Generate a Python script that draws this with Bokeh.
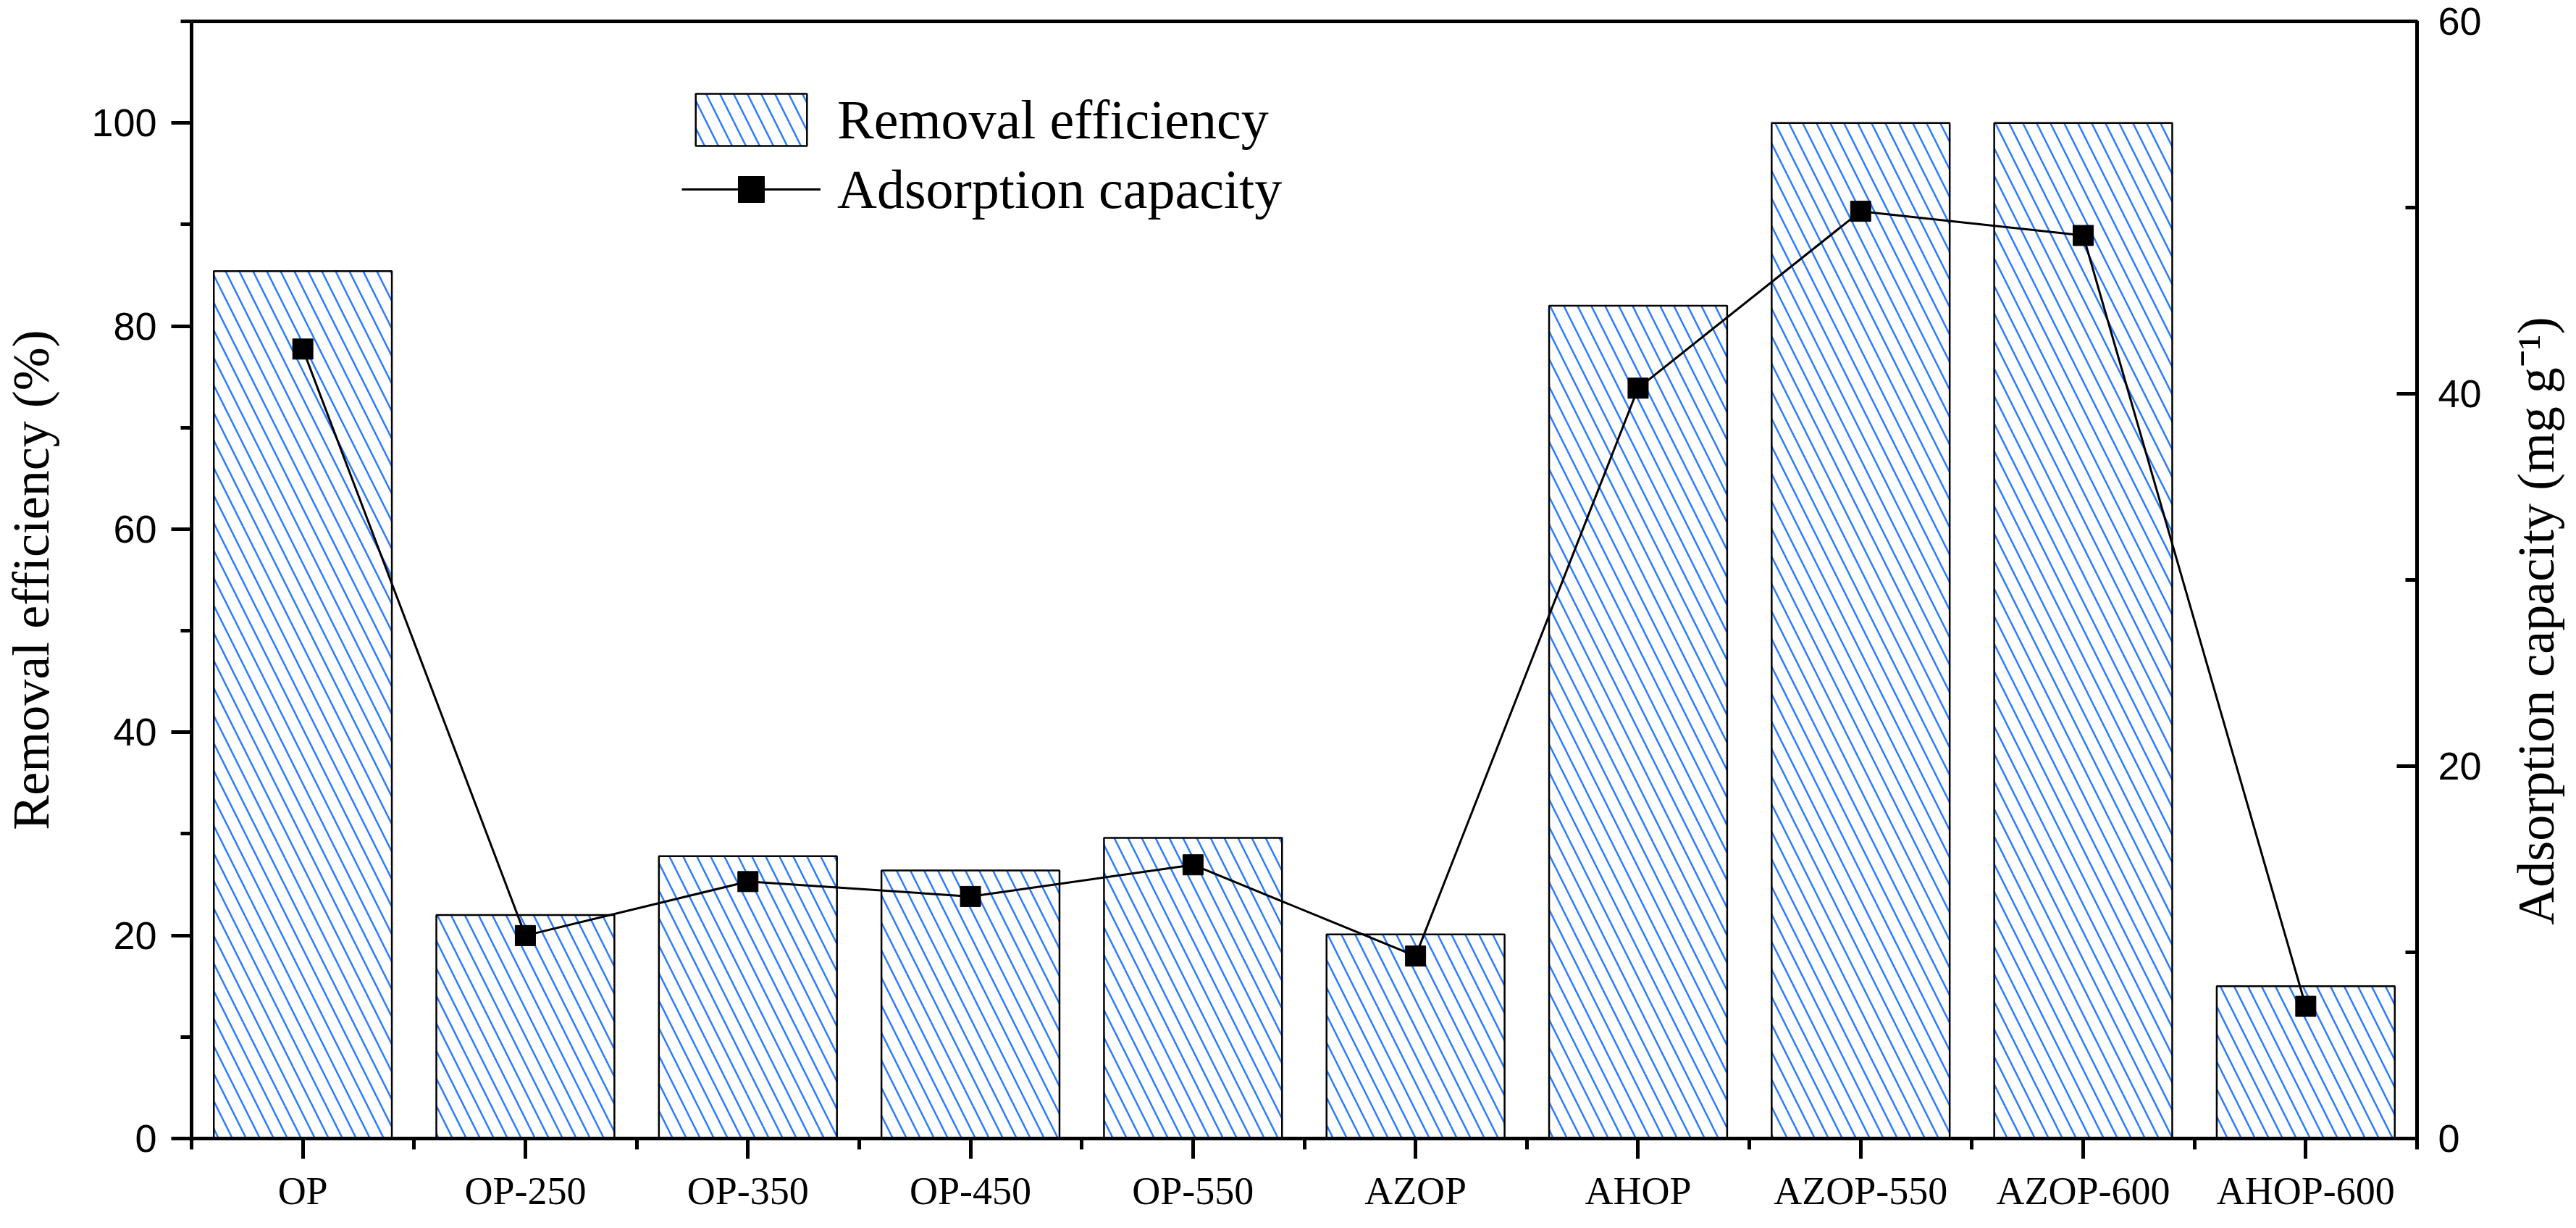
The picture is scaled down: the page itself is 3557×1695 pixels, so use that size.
import math
from bokeh.plotting import figure
from bokeh.models import (Range1d, LinearAxis, SingleIntervalTicker, FixedTicker, Label)
from bokeh.layouts import row
from bokeh.embed import file_html
from bokeh.resources import INLINE

# ---- data ----
categories = ["OP", "OP-250", "OP-350", "OP-450", "OP-550", "AZOP", "AHOP",
              "AZOP-550", "AZOP-600", "AHOP-600"]
removal_efficiency = [85.4, 22.0, 27.8, 26.4, 29.6, 20.1, 82.0, 100.0, 100.0, 15.0]
adsorption_capacity = [42.4, 10.9, 13.8, 13.0, 14.7, 9.8, 40.3, 49.8, 48.5, 7.1]
left_ticks_interval = 20
right_ticks_interval = 20
right_label_text = "Adsorption capacity (mg g\u207b\u00b9)"

positions = [i + 0.5 for i in range(len(categories))]
edges = [i for i in range(len(categories) + 1)]

FRAME_W, FRAME_H = 3073, 1542
BORDER_L, BORDER_R, BORDER_T, BORDER_B = 255, 125, 29, 108
SIDE_W = 88

p = figure(frame_width=FRAME_W, frame_height=FRAME_H,
           x_range=Range1d(0, len(categories)), y_range=Range1d(0, 110),
           output_backend="svg", toolbar_location=None,
           min_border_left=BORDER_L, min_border_right=BORDER_R,
           min_border_top=BORDER_T, min_border_bottom=BORDER_B)
p.grid.visible = False
p.outline_line_color = "black"
p.outline_line_width = 5
p.background_fill_color = "white"
p.border_fill_color = "white"

# bars
p.vbar(x=positions, top=removal_efficiency, width=0.8,
       fill_color="white", line_color="black", line_width=2.5,
       hatch_pattern="left_diagonal_line", hatch_color="#2b7cff",
       hatch_scale=38, hatch_weight=2.5,
       legend_label="Removal efficiency")

# right axis range
p.extra_y_ranges = {"right": Range1d(0, 60)}
p.line(x=positions, y=adsorption_capacity, y_range_name="right",
       line_color="black", line_width=3, legend_label="Adsorption capacity")
p.scatter(x=positions, y=adsorption_capacity, y_range_name="right",
          marker="square", size=28, fill_color="black", line_color="black",
          legend_label="Adsorption capacity")

# x axis
xa = p.xaxis[0]
xa.ticker = FixedTicker(ticks=positions, minor_ticks=edges)
xa.major_label_overrides = {pos: cat for pos, cat in zip(positions, categories)}
xa.axis_line_width = 5
xa.major_tick_line_width = 5
xa.minor_tick_line_width = 5
xa.major_tick_out = 28
xa.major_tick_in = 0
xa.minor_tick_out = 15
xa.minor_tick_in = 0
xa.major_label_text_font = "Liberation Serif"
xa.major_label_text_font_size = "54px"
xa.major_label_text_color = "black"
xa.major_label_standoff = 14

# left axis
ya = p.yaxis[0]
ya.ticker = SingleIntervalTicker(interval=left_ticks_interval, num_minor_ticks=2)
ya.axis_line_width = 5
ya.major_tick_line_width = 5
ya.minor_tick_line_width = 5
ya.major_tick_out = 28
ya.major_tick_in = 0
ya.minor_tick_out = 15
ya.minor_tick_in = 0
ya.major_label_text_font = "Liberation Sans"
ya.major_label_text_font_size = "54px"
ya.major_label_text_color = "black"
ya.major_label_standoff = 20
ya.axis_label = "Removal efficiency (%)"
ya.axis_label_text_font = "Liberation Serif"
ya.axis_label_text_font_size = "72px"
ya.axis_label_text_font_style = "normal"
ya.axis_label_text_color = "black"
ya.axis_label_standoff = 40

# right axis (ticks inward)
ra = LinearAxis(y_range_name="right",
                ticker=SingleIntervalTicker(interval=right_ticks_interval, num_minor_ticks=2))
ra.axis_line_width = 5
ra.major_tick_line_width = 5
ra.minor_tick_line_width = 5
ra.major_tick_out = 0
ra.major_tick_in = 28
ra.minor_tick_out = 0
ra.minor_tick_in = 16
ra.major_label_text_font = "Liberation Sans"
ra.major_label_text_font_size = "54px"
ra.major_label_text_color = "black"
ra.major_label_standoff = 29
p.add_layout(ra, "right")

# legend
lg = p.legend[0]
lg.location = (677, 1265)
lg.glyph_width = 192
lg.glyph_height = 90
lg.label_text_font = "Liberation Serif"
lg.label_text_font_size = "76px"
lg.label_text_color = "black"
lg.label_standoff = 23
lg.spacing = 6
lg.padding = 0
lg.margin = 0
lg.border_line_alpha = 0
lg.background_fill_alpha = 0

# side strip carrying the right axis title (reads bottom-to-top)
side = figure(frame_width=SIDE_W, frame_height=FRAME_H,
              x_range=Range1d(0, 1), y_range=Range1d(0, 60),
              output_backend="svg", toolbar_location=None,
              min_border_left=0, min_border_right=0,
              min_border_top=BORDER_T, min_border_bottom=BORDER_B)
side.axis.visible = False
side.grid.visible = False
side.outline_line_color = None
side.background_fill_color = "white"
side.border_fill_color = "white"
side.add_layout(Label(x=0.45, y=27.8, text=right_label_text, angle=math.pi / 2,
                      text_align="center", text_baseline="middle",
                      text_font="Liberation Serif", text_font_size="72px",
                      text_color="black"))

layout = row(p, side, spacing=0)
open("out.html", "w").write(file_html(layout, INLINE))
